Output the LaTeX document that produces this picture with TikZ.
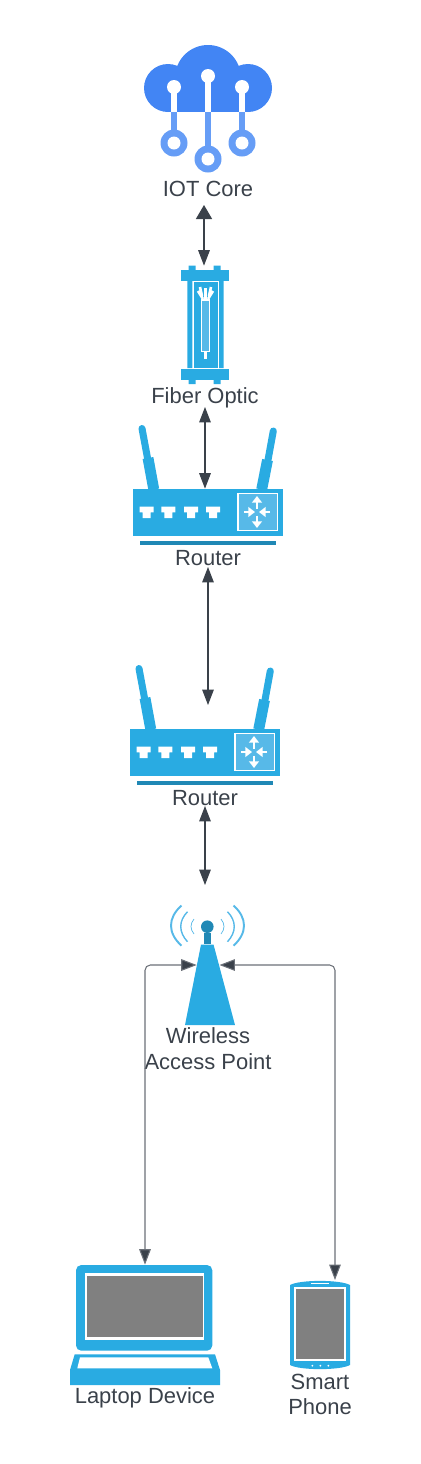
\documentclass[tikz,border=0pt]{standalone}
\usepackage{fontspec}
\setmainfont{Liberation Sans}
\usepackage{tikz}
\usetikzlibrary{arrows.meta}
\usepackage{xcolor}
\definecolor{myblue}{RGB}{41,171,226}
\definecolor{mydark}{RGB}{32,136,181}
\definecolor{mypale}{RGB}{87,185,232}
\definecolor{mycloud}{RGB}{66,133,244}
\definecolor{mystem}{RGB}{102,157,246}
\definecolor{mytext}{RGB}{58,65,74}
\definecolor{myline}{RGB}{107,112,120}
\definecolor{myscreen}{RGB}{128,128,128}
\tikzset{
  lbl/.style={text=mytext, font=\fontsize{12.5}{14.7}\selectfont, align=center, inner sep=0pt},
  iconbox/.style={inner sep=0pt, minimum width=#1},
  link/.style={draw=mytext, line width=0.6pt, {Triangle[length=8.8pt,width=6.6pt,fill=mytext]}-{Triangle[length=8.8pt,width=6.6pt,fill=mytext]}},
  elbow/.style={draw=myline, line width=0.6pt, rounded corners=3pt, {Triangle[length=8.8pt,width=6.6pt,fill=mytext]}-{Triangle[length=8.8pt,width=6.6pt,fill=mytext]}},
  routerpic/.pic={
    % antennas
    \draw[myblue, line width=4pt, line cap=round] (-66,-84) -- (-60.5,-54.5);
    \draw[myblue, line width=6.2pt] (-60,-54.5) -- (-54.2,-23);
    \draw[myblue, line width=4pt, line cap=round] (65.3,-81.5) -- (60,-52.5);
    \draw[myblue, line width=6.2pt] (59.5,-52.5) -- (53.7,-23);
    \fill[myblue] (-74.7,-23.2) rectangle (74.8,23.5);
    \fill[mydark] (-68,28.5) rectangle (67.7,32.5);
    % ports
    \foreach \px in {-61.3,-39.7,-17,5} {
      \fill[white] (\px-7,-5.8) -- (\px+7,-5.8) -- (\px+7,-0.2) -- (\px+4,-0.2) -- (\px+4,5.5) -- (\px-4,5.5) -- (\px-4,-0.2) -- (\px-7,-0.2) -- cycle;
    }
    % switch
    \fill[mypale, draw=white, line width=0.7pt] (30,-19) rectangle (69.5,18);
    \foreach \a in {90,270} {
      \draw[white, line width=1.6pt, -{Triangle[length=3.8pt,width=5.6pt]}, rotate around={\a:(49,-0.5)}] (52.5,-0.5) -- (65,-0.5);
    }
    \foreach \a in {0,180} {
      \draw[white, line width=1.6pt, -{Triangle[length=3.8pt,width=5.6pt]}, rotate around={\a:(49,-0.5)}] (62,-0.5) -- (51,-0.5);
    }
  }
}
\begin{document}
\begin{tikzpicture}[x=0.02cm,y=-0.02cm]
  \useasboundingbox (0,0) rectangle (420,1464);

  % cloud
  \fill[mycloud] (168,88) circle[radius=24] (248,88) circle[radius=24] (208,78) circle[radius=33];
  \fill[mycloud] (168,88) rectangle (248,112);
  \foreach \cx/\cy/\by in {174/87/143,208/76/159,242/87/143} {
    \fill[white] (\cx-3.2,\cy) rectangle (\cx+3.2,112);
    \fill[white] (\cx,\cy) circle[radius=7];
    \fill[mystem] (\cx-3.2,112) rectangle (\cx+3.2,\by);
    \fill[mystem] (\cx,\by) circle[radius=13.5];
    \fill[white] (\cx,\by) circle[radius=6.5];
  }
  \node[lbl] (iotlabel) at (208,189) {IOT Core};

  % fiber
  \node[iconbox=0.98cm, minimum height=2.36cm] (fiber) at (204.8,325) {};
  \fill[myblue] (188.7,265.7) rectangle (195.7,272) (213.7,265.7) rectangle (220.7,272);
  \fill[myblue] (180.7,270) rectangle (229,281.3);
  \fill[myblue] (188.7,378) rectangle (195.7,384) (213.7,378) rectangle (220.7,384);
  \fill[myblue] (180.7,369) rectangle (229,380);
  \fill[myblue] (187.3,281) rectangle (192.3,368) (219,281) rectangle (223.7,368);
  \fill[myblue] (193.5,282) rectangle (217.5,368);
  \fill[mypale, draw=white, line width=0.6pt] (201.5,300) rectangle (209.5,351.7);
  \draw[white, line width=1.2pt] (205.5,351.7) -- (205.5,359);
  \draw[white, line width=1.5pt] (205.5,300) -- (205.5,288) (203,299) -- (198,291) (208,299) -- (213,291) (202,296) -- (200,287) (209,296) -- (211,287);
  \node[lbl] (fiberlabel) at (205,397.5) {Fiber Optic};

  % routers
  \node[iconbox=3cm, minimum height=0.94cm] (routera) at (208,512.5) {};
  \pic at (208,512.5) {routerpic};
  \node[lbl] (routeralabel) at (208,558) {Router};
  \node[iconbox=3cm, minimum height=0.94cm] (routerb) at (205,752.5) {};
  \pic at (205,752.5) {routerpic};
  \node[lbl] (routerblabel) at (205,798) {Router};

  % tower
  \node[iconbox=1cm, minimum height=1.62cm] (tower) at (210,985) {};
  \fill[myblue] (185,1025) -- (201,944.5) -- (213.5,944.5) -- (235,1025) -- cycle;
  \fill[mydark] (204,933) rectangle (210.7,944);
  \fill[mydark] (207.3,926.7) circle[radius=6.3];
  \foreach \sx in {-1,1} {
    \draw[mypale, line width=1.1pt] (207.5+\sx*26,905.5) .. controls (207.5+\sx*40,918) and (207.5+\sx*40,933) .. (207.5+\sx*26,945.7);
    \draw[mypale, line width=0.8pt] (207.5+\sx*20,911.7) .. controls (207.5+\sx*29,921) and (207.5+\sx*29,932) .. (207.5+\sx*20,941.7);
    \draw[mypale, line width=0.4pt] (207.5+\sx*13.5,919) .. controls (207.5+\sx*17.5,924) and (207.5+\sx*17.5,929) .. (207.5+\sx*13.5,934);
  }
  \node[lbl] (towerlabel) at (208,1049) {Wireless\\Access Point};

  % laptop
  \node[iconbox=2.72cm, minimum height=2.4cm] (laptop) at (145,1325) {};
  \fill[myblue, rounded corners=3pt] (76,1265) rectangle (212.3,1350.7);
  \fill[white] (85,1273.3) rectangle (204,1340);
  \fill[myscreen] (86.7,1275.7) rectangle (202.7,1337.3);
  \fill[myblue] (74.7,1354.3) -- (215,1354.3) -- (220,1370) -- (220,1385) -- (70,1385) -- (70,1370) -- cycle;
  \fill[white] (80,1357.3) -- (208.3,1357.3) -- (212.3,1368.3) -- (77.3,1368.3) -- cycle;
  \node[lbl] (laptoplabel) at (145,1398) {Laptop Device};

  % phone
  \node[iconbox=1.2cm, minimum height=1.8cm] (phone) at (320,1325) {};
  \fill[myblue] (290,1285) .. controls (300,1279.5) and (340,1279.5) .. (350,1285) -- (350,1365) .. controls (340,1370.5) and (300,1370.5) .. (290,1365) -- cycle;
  \fill[white] (294,1287.3) rectangle (346,1360.7);
  \fill[myscreen] (296,1289.3) rectangle (344.3,1359);
  \draw[white, line width=0.6pt] (311,1283.3) -- (328.7,1283.3);
  \foreach \dx in {312.3,320.3,328.3} {
    \fill[white] (\dx,1365.7) circle[radius=1];
  }
  \node[lbl] (phonelabel) at (320,1394.5) {Smart\\Phone};

  % connectors
  \coordinate (iotend) at (204,205);
  \coordinate (fiberend) at (205,407);
  \coordinate (routeraend) at (208,567);
  \coordinate (routerbtop) at (208,705);
  \coordinate (routerbend) at (205,806);
  \coordinate (towertop) at (205,885);
  \coordinate (towerleft) at (196.7,965);
  \coordinate (towerright) at (219.5,965);
  \coordinate (phonetop) at (335,1280);
  \draw[link, {Triangle[length=8pt,width=9.2pt,fill=mytext]}-{Triangle[length=8.8pt,width=6.6pt,fill=mytext]}] (iotend) -- (iotend |- fiber.north);
  \draw[link] (fiberend) -- (fiberend |- routera.north);
  \draw[link] (routeraend) -- (routerbtop);
  \draw[link] (routerbend) -- (towertop);
  \draw[elbow] (towerleft) -| (laptop.north);
  \draw[elbow] (towerright) -| (phonetop);
\end{tikzpicture}
\end{document}
